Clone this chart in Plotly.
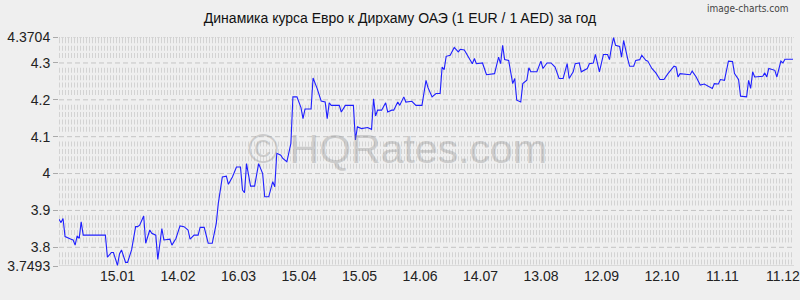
import numpy as np
import plotly.graph_objects as go

dates = [
    "2024-12-17", "2024-12-18", "2024-12-19", "2024-12-20", "2024-12-23", "2024-12-24",
    "2024-12-25", "2024-12-26", "2024-12-27", "2024-12-28", "2024-12-29",
    "2025-01-09", "2025-01-10", "2025-01-12", "2025-01-13", "2025-01-15", "2025-01-16",
    "2025-01-17", "2025-01-19", "2025-01-20", "2025-01-22", "2025-01-24", "2025-01-25",
    "2025-01-26", "2025-01-28", "2025-01-29", "2025-01-31", "2025-02-01", "2025-02-03",
    "2025-02-04", "2025-02-06", "2025-02-07", "2025-02-10", "2025-02-11", "2025-02-13",
    "2025-02-15", "2025-02-17", "2025-02-19", "2025-02-20", "2025-02-22", "2025-02-24",
    "2025-02-25", "2025-02-27", "2025-03-01", "2025-03-03", "2025-03-05", "2025-03-06",
    "2025-03-08", "2025-03-10", "2025-03-11", "2025-03-13", "2025-03-15", "2025-03-17",
    "2025-03-18", "2025-03-19", "2025-03-20", "2025-03-22", "2025-03-24", "2025-03-26",
    "2025-03-28", "2025-03-29", "2025-03-31", "2025-04-02", "2025-04-03", "2025-04-04",
    "2025-04-06", "2025-04-07", "2025-04-09", "2025-04-11", "2025-04-12", "2025-04-14",
    "2025-04-16", "2025-04-17", "2025-04-18", "2025-04-21", "2025-04-22", "2025-04-24",
    "2025-04-26", "2025-04-28", "2025-04-29", "2025-04-30", "2025-05-01", "2025-05-05",
    "2025-05-06", "2025-05-08", "2025-05-12", "2025-05-13", "2025-05-14", "2025-05-16",
    "2025-05-18", "2025-05-19", "2025-05-21", "2025-05-22", "2025-05-23", "2025-05-24",
    "2025-05-26", "2025-05-28", "2025-05-29", "2025-05-31", "2025-06-01", "2025-06-03",
    "2025-06-04", "2025-06-06", "2025-06-07", "2025-06-10", "2025-06-12", "2025-06-15",
    "2025-06-17", "2025-06-18", "2025-06-20", "2025-06-22", "2025-06-24", "2025-06-25",
    "2025-06-26", "2025-06-27", "2025-06-29", "2025-07-01", "2025-07-03", "2025-07-04",
    "2025-07-06", "2025-07-08", "2025-07-10", "2025-07-11", "2025-07-12", "2025-07-15",
    "2025-07-17", "2025-07-21", "2025-07-23", "2025-07-24", "2025-07-25", "2025-07-26",
    "2025-07-28", "2025-07-30", "2025-07-31", "2025-08-01", "2025-08-03", "2025-08-04",
    "2025-08-06", "2025-08-07", "2025-08-08", "2025-08-11", "2025-08-13", "2025-08-14",
    "2025-08-16", "2025-08-18", "2025-08-20", "2025-08-22", "2025-08-24", "2025-08-26",
    "2025-08-27", "2025-08-29", "2025-08-30", "2025-09-01", "2025-09-02", "2025-09-05",
    "2025-09-06", "2025-09-08", "2025-09-09", "2025-09-11", "2025-09-13", "2025-09-15",
    "2025-09-16", "2025-09-17", "2025-09-18", "2025-09-19", "2025-09-21", "2025-09-22",
    "2025-09-23", "2025-09-25", "2025-09-26", "2025-09-28", "2025-09-29", "2025-10-01",
    "2025-10-02", "2025-10-04", "2025-10-05", "2025-10-07", "2025-10-09", "2025-10-11",
    "2025-10-13", "2025-10-15", "2025-10-18", "2025-10-19", "2025-10-20", "2025-10-21",
    "2025-10-26", "2025-10-27", "2025-10-29", "2025-10-31", "2025-11-02", "2025-11-06",
    "2025-11-07", "2025-11-09", "2025-11-10", "2025-11-12", "2025-11-14", "2025-11-16",
    "2025-11-17", "2025-11-19", "2025-11-20", "2025-11-23", "2025-11-24", "2025-11-25",
    "2025-11-26", "2025-11-27", "2025-12-01", "2025-12-02", "2025-12-03", "2025-12-04",
    "2025-12-07", "2025-12-08", "2025-12-10", "2025-12-11", "2025-12-12", "2025-12-15",
    "2025-12-16",
]

rates = [
    3.876, 3.867, 3.878, 3.829, 3.822, 3.820,
    3.806, 3.831, 3.824, 3.869, 3.833,
    3.833, 3.773, 3.786, 3.786, 3.751, 3.782,
    3.793, 3.759, 3.759, 3.793, 3.856, 3.856,
    3.860, 3.885, 3.811, 3.847, 3.838, 3.833,
    3.767, 3.851, 3.820, 3.822, 3.806, 3.824,
    3.858, 3.856, 3.847, 3.822, 3.833, 3.833,
    3.854, 3.854, 3.811, 3.811, 3.865, 3.919,
    3.991, 3.993, 3.971, 3.991, 4.018, 4.018,
    3.955, 3.948, 4.027, 3.966, 3.966, 4.027,
    4.000, 3.937, 3.937, 3.978, 3.964, 4.055,
    4.050, 4.041, 4.032, 4.082, 4.208, 4.208,
    4.179, 4.149, 4.175, 4.175, 4.259, 4.231,
    4.197, 4.194, 4.149, 4.192, 4.185, 4.185,
    4.167, 4.185, 4.185, 4.091, 4.127, 4.122,
    4.123, 4.125, 4.120, 4.203, 4.156, 4.172,
    4.172, 4.192, 4.167, 4.172, 4.172, 4.194,
    4.185, 4.208, 4.194, 4.196, 4.185, 4.185,
    4.253, 4.233, 4.208, 4.217, 4.217, 4.289,
    4.282, 4.318, 4.321, 4.342, 4.330, 4.337,
    4.335, 4.318, 4.298, 4.312, 4.298, 4.300,
    4.268, 4.271, 4.316, 4.298, 4.348, 4.309,
    4.307, 4.244, 4.258, 4.199, 4.194, 4.244,
    4.253, 4.287, 4.276, 4.276, 4.305, 4.285,
    4.300, 4.300, 4.289, 4.258, 4.258, 4.298,
    4.258, 4.276, 4.298, 4.300, 4.276, 4.285,
    4.298, 4.300, 4.323, 4.276, 4.323, 4.323,
    4.309, 4.343, 4.369, 4.348, 4.345, 4.316,
    4.361, 4.312, 4.291, 4.291, 4.307, 4.309,
    4.321, 4.307, 4.305, 4.285, 4.273, 4.255,
    4.255, 4.271, 4.291, 4.289, 4.262, 4.271,
    4.268, 4.278, 4.262, 4.240, 4.243, 4.231,
    4.244, 4.243, 4.255, 4.253, 4.305, 4.304,
    4.271, 4.255, 4.210, 4.208, 4.253, 4.231,
    4.276, 4.262, 4.264, 4.273, 4.262, 4.285,
    4.280, 4.262, 4.305, 4.300, 4.310, 4.310,
    4.310,
]

y_tickvals = [3.7493, 3.8, 3.9, 4.0, 4.1, 4.2, 4.3, 4.3704]
y_ticktext = ["3.7493", "3.8", "3.9", "4", "4.1", "4.2", "4.3", "4.3704"]
x_tickvals = ["2025-01-15", "2025-02-14", "2025-03-16", "2025-04-15", "2025-05-15",
              "2025-06-14", "2025-07-14", "2025-08-13", "2025-09-12", "2025-10-12",
              "2025-11-11", "2025-12-11"]
x_ticktext = ["15.01", "14.02", "16.03", "15.04", "15.05", "14.06", "14.07",
              "13.08", "12.09", "12.10", "11.11", "11.12"]

title = "Динамика курса Евро к Дирхаму ОАЭ (1 EUR / 1 AED) за год"

ymin, ymax = y_tickvals[0], y_tickvals[-1]

shapes = []
# striped background rows
for lvl in np.arange(3.74, 4.38, 0.02):
    lvl = round(float(lvl), 2)
    if abs(lvl * 10 - round(lvl * 10)) < 1e-6:
        continue
    if lvl < ymin - 0.02 or lvl > ymax:
        continue
    shapes.append(dict(type="line", xref="paper", x0=0, x1=1, yref="y", y0=lvl, y1=lvl,
                       line=dict(color="#d3d3d3", width=5, dash="1px,2px"), layer="below"))
# top boundary stripes
shapes.append(dict(type="line", xref="paper", x0=0, x1=1, yref="y", y0=ymax - 0.004, y1=ymax - 0.004,
                   line=dict(color="#d3d3d3", width=4, dash="1px,2px"), layer="below"))
# dashed major lines
for lvl in [3.8, 3.9, 4.0, 4.1, 4.2, 4.3]:
    shapes.append(dict(type="line", xref="paper", x0=0, x1=1, yref="y", y0=lvl, y1=lvl,
                       line=dict(color="#c4c4c4", width=1, dash="5px,3px"), layer="below"))
shapes.append(dict(type="line", xref="paper", x0=0, x1=1, yref="y", y0=ymax, y1=ymax,
                   line=dict(color="#c8c8c8", width=1, dash="1px,1px"), layer="below"))
shapes.append(dict(type="line", xref="paper", x0=0, x1=1, yref="y", y0=ymin, y1=ymin,
                   line=dict(color="#c4c4c4", width=1), layer="below"))

fig = go.Figure()
fig.add_trace(go.Scatter(x=dates, y=rates, mode="lines",
                         line=dict(color="#1f1fff", width=1.1), hoverinfo="skip"))

fig.update_layout(
    width=800, height=300,
    margin=dict(l=59, r=0, t=37, b=34),
    paper_bgcolor="#efefef", plot_bgcolor="#efefef",
    showlegend=False,
    font=dict(family="Liberation Sans, Arial, sans-serif", size=14, color="#222222"),
    title=dict(text=title, xref="container", yref="container", x=0.5, y=1 - 18 / 300,
               xanchor="center", yanchor="middle", font=dict(size=14, color="#111111")),
    shapes=shapes,
    annotations=[
        dict(text="image-charts.com", xref="paper", yref="paper", x=1, y=1, xshift=-4, yshift=29,
             xanchor="right", yanchor="middle", showarrow=False,
             font=dict(family="DejaVu Sans Condensed, sans-serif", size=10, color="#444444")),
        dict(text="© HQRates.com", xref="paper", yref="paper", x=0.46, y=0.51,
             xanchor="center", yanchor="middle", showarrow=False,
             font=dict(size=41, color="rgba(140,140,140,0.35)")),
    ],
)
fig.update_xaxes(type="date", range=["2024-12-17", "2025-12-16 12:00"],
                 tickvals=x_tickvals, ticktext=x_ticktext, showgrid=False, zeroline=False,
                 showline=False, ticks="", fixedrange=True, ticklabeloverflow="allow")
fig.update_yaxes(range=[ymin, ymax], tickvals=y_tickvals, ticktext=y_ticktext,
                 showgrid=False, zeroline=False, showline=False,
                 ticks="outside", ticklen=5, tickcolor="#aaaaaa", fixedrange=True)

fig.write_html("out.html")
